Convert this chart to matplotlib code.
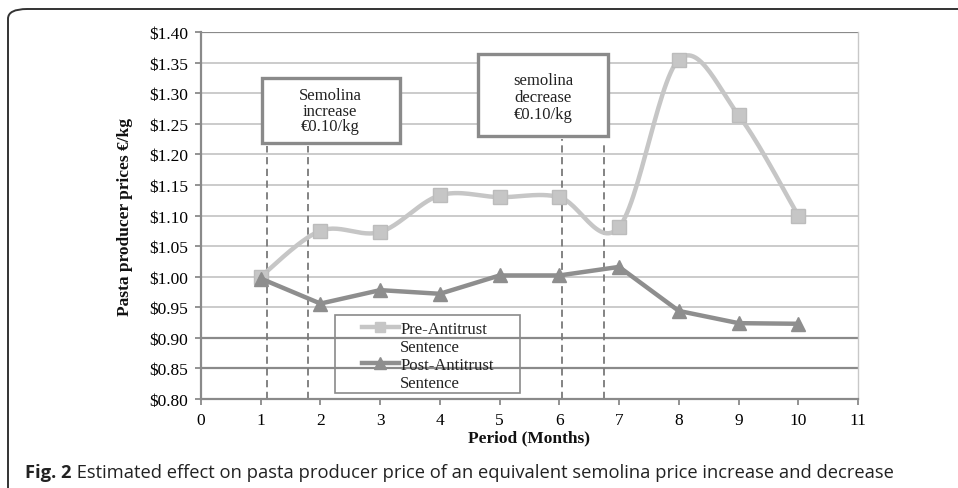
import numpy as np
import matplotlib
matplotlib.use("Agg")
import matplotlib.pyplot as plt
from matplotlib.patches import FancyBboxPatch, Rectangle
from matplotlib.lines import Line2D
from matplotlib.ticker import FuncFormatter, MultipleLocator

# data
months = [1, 2, 3, 4, 5, 6, 7, 8, 9, 10]
pre_antitrust = [1.000, 1.075, 1.073, 1.133, 1.130, 1.130, 1.081, 1.355, 1.264, 1.100]
post_antitrust = [0.997, 0.956, 0.978, 0.972, 1.002, 1.002, 1.016, 0.944, 0.924, 0.923]
shock_lines = [1.10, 1.80, 6.05, 6.75]
shock_tops = [1.214, 1.214, 1.225, 1.217]
pre_label = "Pre-Antitrust"
post_label = "Post-Antitrust"

SERIF = "Liberation Serif"
PRE_C = "#c6c6c6"
POST_C = "#8e8e8e"
AX_C = "#8a8a8a"


def smooth(xs, ys, n=30):
    # Excel-like smoothed line (Catmull-Rom as cubic Bezier)
    p = np.column_stack([xs, ys]).astype(float)
    ext = np.vstack([p[0], p, p[-1]])
    t = np.linspace(0, 1, n)[:, None]
    out = []
    for i in range(len(p) - 1):
        p0, p1 = ext[i + 1], ext[i + 2]
        b1 = p0 + (ext[i + 2] - ext[i]) / 6
        b2 = p1 - (ext[i + 3] - ext[i + 1]) / 6
        seg = ((1 - t) ** 3 * p0 + 3 * (1 - t) ** 2 * t * b1
               + 3 * (1 - t) * t ** 2 * b2 + t ** 3 * p1)
        out.append(seg if i == 0 else seg[1:])
    out = np.vstack(out)
    return out[:, 0], out[:, 1]


fig = plt.figure(figsize=(9.58, 4.89), dpi=100)
ax = fig.add_axes([0.2098, 0.182, 0.6858, 0.7505])
ax.set_xlim(0, 11)
ax.set_ylim(0.80, 1.40)

# horizontal gridlines
ax.yaxis.set_major_locator(MultipleLocator(0.05))
ax.xaxis.set_major_locator(MultipleLocator(1))
ax.yaxis.grid(True, color="#bdbdbd", lw=1.1)
ax.set_axisbelow(True)
for val, gl in zip(ax.get_yticks(), ax.get_ygridlines()):
    if abs(val - 0.85) < 1e-6 or abs(val - 0.90) < 1e-6 or abs(val - 1.40) < 1e-6:
        gl.set_color(AX_C)
        gl.set_linewidth(1.6)

ax.spines["top"].set_visible(False)
ax.spines["right"].set_color("#c8c8c8")
ax.spines["right"].set_linewidth(1.0)
for s in ["left", "bottom"]:
    ax.spines[s].set_color(AX_C)
    ax.spines[s].set_linewidth(1.6)

ax.yaxis.set_major_formatter(FuncFormatter(lambda v, _: f"${v:.2f}"))
ax.tick_params(axis="both", direction="out", length=4, width=1.3, color=AX_C,
               labelsize=12.5, pad=5)
for lbl in ax.get_xticklabels() + ax.get_yticklabels():
    lbl.set_fontfamily(SERIF)

# shock markers (dashed)
for xv, top in zip(shock_lines, shock_tops):
    ax.plot([xv, xv], [0.80, top], ls=(0, (4, 2.5)), color="#7a7a7a", lw=1.3, zorder=2)

# series
sx, sy = smooth(months, pre_antitrust)
ax.plot(sx, sy, color=PRE_C, lw=3.2, solid_capstyle="round", zorder=3)
ax.plot(months, pre_antitrust, ls="none", marker="s", ms=9.5, color=PRE_C,
        mec="#bcbcbc", zorder=4)
ax.plot(months, post_antitrust, color=POST_C, lw=3.2, marker="^", ms=10.5,
        mec=POST_C, zorder=5, solid_joinstyle="round")

# annotation boxes
for (x0, x1, y0, y1) in [(1.017, 3.333, 1.2185, 1.3248), (4.64, 6.82, 1.230, 1.364)]:
    ax.add_patch(Rectangle((x0, y0), x1 - x0, y1 - y0, fc="white", ec=AX_C,
                           lw=2.4, zorder=6))
ax.text(2.16, 1.2716, "Semolina\nincrease\n\u20ac0.10/kg", ha="center", va="center",
        fontsize=12, family=SERIF, color="#222222", linespacing=0.98, zorder=7)
ax.text(5.73, 1.2937, "semolina\ndecrease\n\u20ac0.10/kg", ha="center", va="center",
        fontsize=12, family=SERIF, color="#222222", linespacing=1.1, zorder=7)

# legend
h_pre = Line2D([], [], color=PRE_C, lw=3.2, marker="s", ms=7.5)
h_post = Line2D([], [], color=POST_C, lw=3.2, marker="^", ms=8)
blank = Line2D([], [], ls="none")
leg = ax.legend([h_pre, blank, h_post, blank],
                [pre_label, "Sentence", post_label, "Sentence"],
                loc="upper left", bbox_to_anchor=(0.245, 0.213), frameon=False,
                prop=dict(family=SERIF, size=12), handlelength=2.2,
                handletextpad=0.1, labelspacing=0.13, borderaxespad=0,
                borderpad=0)
for t in leg.get_texts():
    t.set_color("#222222")
ax.add_patch(Rectangle((0.204, 0.016), 0.2815, 0.2125, transform=ax.transAxes,
                       fill=False, ec=AX_C, lw=1.2, zorder=6))

ax.set_ylabel("Pasta producer prices \u20ac/kg", family=SERIF, fontsize=12.5,
              fontweight="bold", labelpad=12, color="#111111")
ax.set_xlabel("Period (Months)", family=SERIF, fontsize=12.5, fontweight="bold",
              labelpad=1, color="#111111")

# outer frame of the figure panel
frame = FancyBboxPatch((8 / 958, -0.1), 1.2, 1.1 - 10 / 489,
                       boxstyle="round,pad=0,rounding_size=0.02",
                       transform=fig.transFigure, fill=False, ec="#333333",
                       lw=1.4, clip_on=False)
fig.patches.append(frame)

cap = fig.text(25 / 958, 1 - 473 / 489, "Fig. 2", family="Open Sans", fontsize=13.2,
               fontweight="bold", va="center", color="#222222")
ax.annotate(" Estimated effect on pasta producer price of an equivalent semolina price "
            "increase and decrease", xy=(1, 0.5), xycoords=cap, va="center",
            family="Open Sans", fontsize=13.2, color="#222222", annotation_clip=False)

fig.savefig("out.png", dpi=100, facecolor="white")
